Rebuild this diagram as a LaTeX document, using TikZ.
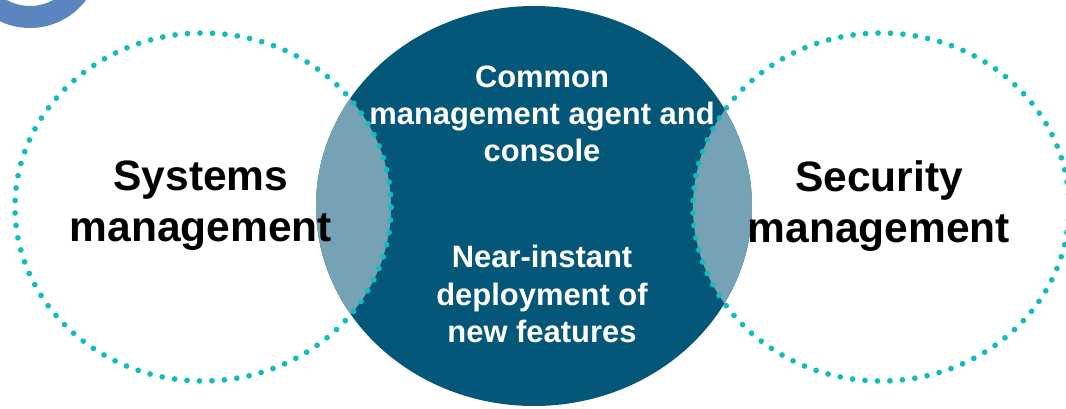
\documentclass[tikz,border=0pt]{standalone}
\usepackage{fontspec}
\setmainfont{Liberation Sans}
\usetikzlibrary{positioning}
\definecolor{CoreBlue}{HTML}{045778}
\definecolor{OverlapBlue}{HTML}{76A2B5}
\definecolor{DotTeal}{HTML}{14BDBB}
\definecolor{LogoBlue}{HTML}{5A85BF}
\begin{document}
\begin{tikzpicture}[x=0.02cm, y=0.02cm,
    dotring/.style={draw=DotTeal, line width=0.115cm, line cap=round, dash pattern=on 0pt off 0.25cm},
    sidetext/.style={align=center, font=\bfseries\fontsize{24.2pt}{29pt}\selectfont, text=black},
    coretext/.style={align=center, font=\bfseries\fontsize{17.6pt}{21.1pt}\selectfont, text=white}]
    \useasboundingbox (0,0) rectangle (1066,-409);
    \clip (0,0) rectangle (1066,-409);

    % clipped logo ring in the corner
    \fill[LogoBlue, even odd rule] (30,42) circle[radius=70] (30,42) circle[radius=48];

    % core circle and its overlaps
    \fill[CoreBlue] (534,-206) ellipse[x radius=218, y radius=200];
    \begin{scope}
      \clip (534,-206) ellipse[x radius=218, y radius=200];
      \fill[OverlapBlue] (203,-207) ellipse[x radius=188, y radius=174];
      \fill[OverlapBlue] (881,-207) ellipse[x radius=188, y radius=174];
    \end{scope}

    % dotted side circles
    \draw[dotring] (203,-207) ellipse[x radius=188, y radius=174];
    \draw[dotring] (881,-207) ellipse[x radius=188, y radius=174];

    \node[sidetext] (systems) at (201,-206) {Systems\\management};
    \node[sidetext] (security) at (879,-206) {Security\\management};
    \node[coretext] (agent) at (542,-114) {Common\\management agent and\\console};
    \node[coretext] (deploy) at (542,-294) {Near-instant\\deployment of\\new features};
\end{tikzpicture}
\end{document}
